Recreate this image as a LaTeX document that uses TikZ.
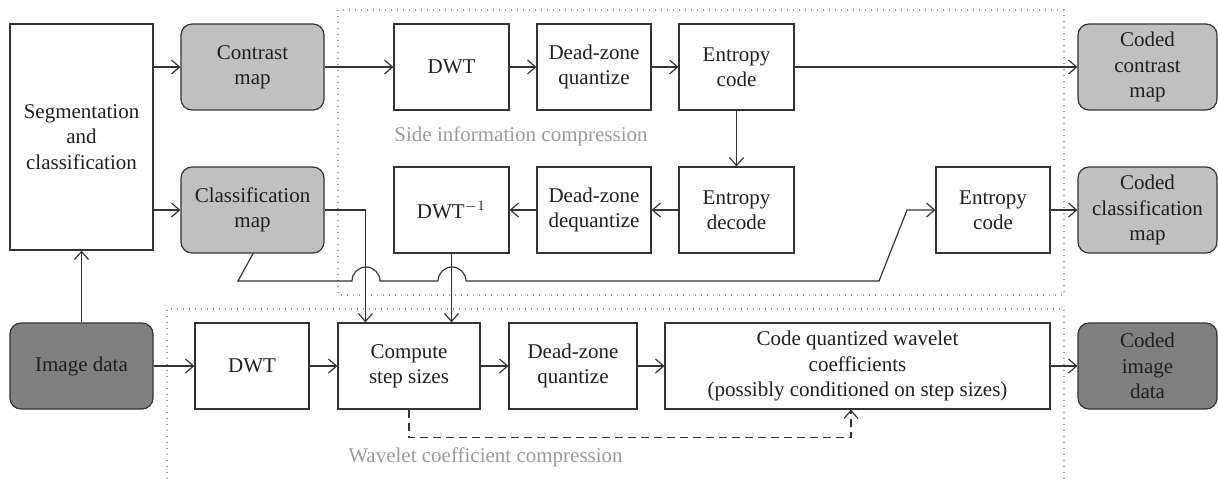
\documentclass[tikz,border=0pt]{standalone}
\usepackage{fontspec}
\setmainfont{Liberation Serif}
\usetikzlibrary{arrows.meta,calc}
\definecolor{ln}{HTML}{333333}
\definecolor{lg}{HTML}{C0C0C0}
\definecolor{dg}{HTML}{808080}
\definecolor{lbl}{HTML}{9A9A9A}
\begin{document}
\begin{tikzpicture}[x=0.5pt,y=-0.5pt,
  every node/.style={font=\fontsize{10.5}{12.7}\selectfont, text=black!88, align=center, inner sep=0pt},
  box/.style={draw=ln, line width=0.6pt, minimum height=43pt},
  rbox/.style={box, rounded corners=5.5pt, fill=lg},
  dbox/.style={box, rounded corners=5.5pt, fill=dg},
  arr/.style={draw=ln, line width=0.6pt, -{Straight Barb[length=4pt,width=7pt]}},
  region/.style={draw=lbl, line width=0.6pt, dash pattern=on 0.6pt off 2.4pt},
  lab/.style={text=lbl}]
\useasboundingbox (0,0) rectangle (1218,479);
% regions
\draw[region] (338,10) rectangle (1064,295);
\draw[region] (167,479) -- (167,309) -- (1064,309) -- (1064,479);
% nodes
\node[box, minimum width=71.5pt, minimum height=113pt] (seg) at (81.5,137) {Segmentation\\and\\classification};
\node[rbox, minimum width=71.5pt] (contrast) at (252.5,67) {Contrast\\map};
\node[rbox, minimum width=71.5pt] (classmap) at (252.5,210) {Classification\\map};
\node[box, minimum width=57.5pt] (dwt1) at (451.5,67) {DWT};
\node[box, minimum width=57pt] (dq1) at (594,67) {Dead-zone\\quantize};
\node[box, minimum width=57.5pt] (ec1) at (736.5,67) {Entropy\\code};
\node[box, minimum width=57.5pt] (idwt) at (451.5,210) {DWT$^{-1}$};
\node[box, minimum width=57pt] (dd) at (594,210) {Dead-zone\\dequantize};
\node[box, minimum width=57.5pt] (ed) at (736.5,210) {Entropy\\decode};
\node[box, minimum width=57pt] (ec2) at (993,210) {Entropy\\code};
\node[rbox, minimum width=69.5pt] (cc) at (1147.5,67) {Coded\\contrast\\map};
\node[rbox, minimum width=69.5pt] (ccl) at (1147.5,210) {Coded\\classification\\map};
\node[dbox, minimum width=71.5pt] (img) at (81.5,366) {Image data};
\node[box, minimum width=57pt] (dwt2) at (252,366) {DWT};
\node[box, minimum width=71pt] (cs) at (409,366) {Compute\\step sizes};
\node[box, minimum width=64pt] (dq2) at (573,366) {Dead-zone\\quantize};
\node[box, minimum width=192.5pt] (cq) at (857.5,366) {Code quantized wavelet\\coefficients\\(possibly conditioned on step sizes)};
\node[dbox, minimum width=69.5pt] (ci) at (1147.5,366) {Coded\\image\\data};
% labels
\node[lab] (sic) at (521,136) {Side information compression};
\node[lab] (wcc) at (485.5,457) {Wavelet coefficient compression};
% connectors
\draw[arr] (contrast.west -| seg.east) -- (contrast.west);
\draw[arr] (classmap.west -| seg.east) -- (classmap.west);
\draw[arr] (img.north) -- (seg.south);
\draw[arr] (contrast.east) -- (dwt1.west);
\draw[arr] (dwt1.east) -- (dq1.west);
\draw[arr] (dq1.east) -- (ec1.west);
\draw[arr] (ec1.east) -- (cc.west);
\draw[arr] (ec1.south) -- (ed.north);
\draw[arr] (ed.west) -- (dd.east);
\draw[arr] (dd.west) -- (idwt.east);
\draw[arr] (classmap.east) -| ([xshift=14pt]cs.north west);
\draw[arr] (idwt.south) -- (idwt.south |- cs.north);
\draw[arr] ([xshift=0.25pt]classmap.south) -- (238,281) -- (352,281)
   arc[start angle=180,end angle=0,radius=7pt] -- (438,281)
   arc[start angle=180,end angle=0,radius=7pt] -- (879,281) -- (907,210) -- (ec2.west);
\draw[arr] (ec2.east) -- (ccl.west);
\draw[arr] (img.east) -- (dwt2.west);
\draw[arr] (dwt2.east) -- (cs.west);
\draw[arr] (cs.east) -- (dq2.west);
\draw[arr] (dq2.east) -- (cq.west);
\draw[arr] (cq.east) -- (ci.west);
\draw[arr, dash pattern=on 4pt off 2.5pt] (cs.south) -- ++(0,28) -| ([xshift=-3.25pt]cq.south);
\end{tikzpicture}
\end{document}
